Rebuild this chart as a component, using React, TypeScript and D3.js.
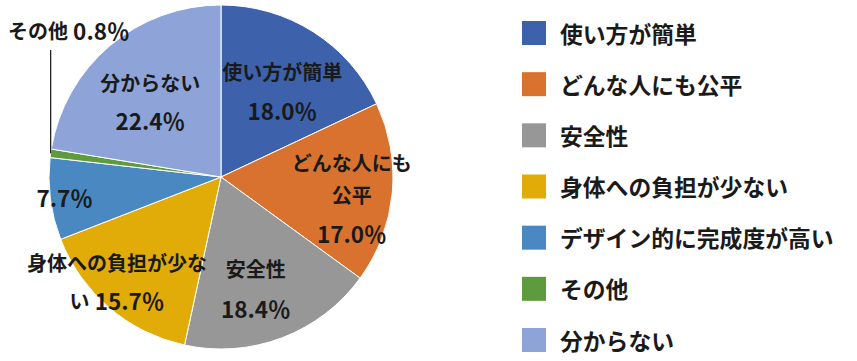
import React from "react";
import * as d3 from "d3";

// Pie chart of reasons, Japanese labels, legend on the right.
const categories = [
  "使い方が簡単",
  "どんな人にも公平",
  "安全性",
  "身体への負担が少ない",
  "デザイン的に完成度が高い",
  "その他",
  "分からない",
];
const values = [18.0, 17.0, 18.4, 15.7, 7.7, 0.8, 22.4];
const colors = ["#3D61AB", "#D8722E", "#979797", "#E1AB08", "#4A88C2", "#5E9B3F", "#8EA4D8"];

// label lines shown inside the pie (last line carries the percentage)
const labelLines: string[][] = [
  ["使い方が簡単"],
  ["どんな人にも", "公平"],
  ["安全性"],
  ["身体への負担が少な", "い"],
  [],
  ["その他"],
  ["分からない"],
];

const W = 857;
const H = 361;
const cx = 221;
const cy = 177;
const R = 172;
const FONT = "'Noto Sans CJK JP', 'Noto Sans', sans-serif";

// offsets from the label centroid, tweaked to follow the original placement
const labelOffset: [number, number][] = [
  [6, 1],
  [28, 11],
  [-2, 15],
  [-37, 26],
  [-54, 7],
  [0, 0],
  [-4, 3],
];

const fmt = (v: number) => v.toFixed(1) + "％";

export default function App() {
  const pie = d3
    .pie<number>()
    .sort(null)
    .value((d) => d);
  const arcs = pie(values);
  const arc = d3.arc<d3.PieArcDatum<number>>().innerRadius(0).outerRadius(R);
  const labelArc = d3
    .arc<d3.PieArcDatum<number>>()
    .innerRadius(R * 0.6)
    .outerRadius(R * 0.6);

  const legendY = d3
    .scalePoint<string>()
    .domain(categories)
    .range([33, 340]);

  const labelSize = 20;
  const pctSize = 22.5;

  const renderLabel = (i: number) => {
    const a = arcs[i];
    const [x0, y0] = labelArc.centroid(a);
    const x = x0 + labelOffset[i][0];
    const y = y0 + labelOffset[i][1];
    const lines = labelLines[i];
    const common = {
      fontFamily: FONT,
      fontWeight: 700,
      fill: "#1a1a1a",
      textAnchor: "middle" as const,
      dominantBaseline: "central" as const,
    };
    if (i === 5) {
      // small slice: label outside with a leader line
      const mid = (a.startAngle + a.endAngle) / 2;
      const px = cx + R * Math.sin(mid);
      const py = cy - R * Math.cos(mid);
      return (
        <g key={i}>
          <line x1={px} y1={py} x2={px} y2={50} stroke="#222" strokeWidth={1.3} />
          <text x={8} y={30} {...common} textAnchor="start">
            <tspan fontSize={labelSize}>{lines[0]}</tspan>
            <tspan fontSize={pctSize}> {fmt(values[i])}</tspan>
          </text>
        </g>
      );
    }
    if (i === 1) {
      return (
        <g key={i} transform={`translate(${cx + x},${cy + y})`}>
          <text y={-35} fontSize={labelSize} {...common}>{lines[0]}</text>
          <text y={-3} fontSize={labelSize} {...common}>{lines[1]}</text>
          <text y={35} fontSize={pctSize} {...common}>{fmt(values[i])}</text>
        </g>
      );
    }
    if (i === 3) {
      return (
        <g key={i} transform={`translate(${cx + x},${cy + y})`}>
          <text y={-19} fontSize={labelSize} {...common}>{lines[0]}</text>
          <text y={19} {...common}>
            <tspan fontSize={labelSize}>{lines[1]}</tspan>
            <tspan fontSize={pctSize}> {fmt(values[i])}</tspan>
          </text>
        </g>
      );
    }
    if (lines.length === 0) {
      return (
        <g key={i} transform={`translate(${cx + x},${cy + y})`}>
          <text fontSize={pctSize} {...common}>{fmt(values[i])}</text>
        </g>
      );
    }
    const half = i === 2 ? 20 : 19;
    return (
      <g key={i} transform={`translate(${cx + x},${cy + y})`}>
        <text y={-half} fontSize={labelSize} {...common}>{lines[0]}</text>
        <text y={half} fontSize={pctSize} {...common}>{fmt(values[i])}</text>
      </g>
    );
  };

  return (
    <svg
      width={W}
      height={H}
      style={{ position: "absolute", left: 0, top: 0, background: "#fff" }}
    >
      <g transform={`translate(${cx},${cy})`}>
        {arcs.map((a, i) => (
          <path key={i} d={arc(a) || ""} fill={colors[i]} stroke="#fff" strokeWidth={1} />
        ))}
      </g>
      {arcs.map((_, i) => renderLabel(i))}
      <g>
        {categories.map((c, i) => (
          <g key={c} transform={`translate(522,${legendY(c)})`}>
            <rect x={0} y={-12} width={24} height={24} fill={colors[i]} />
            <text
              x={38}
              y={0}
              fontFamily={FONT}
              fontWeight={700}
              fontSize={22.8}
              fill="#1a1a1a"
              dominantBaseline="central"
            >
              {c}
            </text>
          </g>
        ))}
      </g>
    </svg>
  );
}
